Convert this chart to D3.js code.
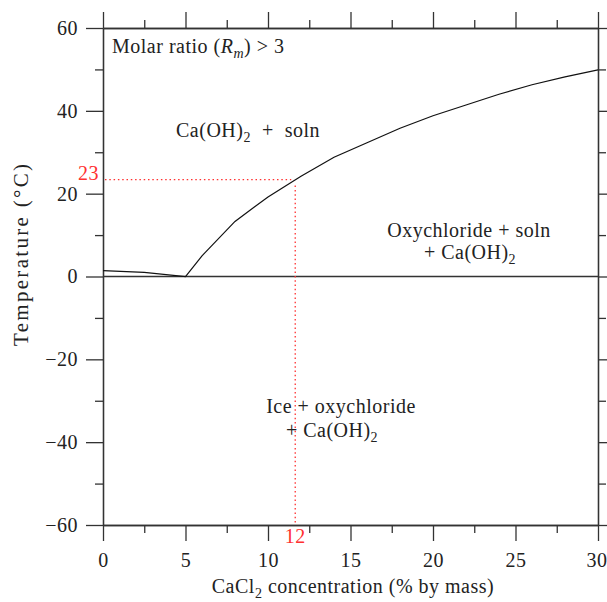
<!DOCTYPE html>
<html>
<head>
<meta charset="utf-8">
<script src="https://cdn.jsdelivr.net/npm/d3@7"></script>
<style>
  html, body { margin: 0; padding: 0; background: #fff; }
  svg { display: block; }
  text { font-family: "Liberation Serif", "DejaVu Serif", serif; fill: #222; letter-spacing: 0.5px; }
</style>
</head>
<body>
<svg id="chart" width="607" height="602"></svg>
<script>
// Liquidus curve: CaCl2 concentration (% by mass) vs temperature (°C)
const concentration = [0, 2.5, 5, 6, 8, 10, 12, 14, 16, 18, 20, 22, 24, 26, 28, 30];
const temperature   = [1.4, 1.0, 0, 5.0, 13.3, 19.2, 24.2, 28.8, 32.3, 35.8, 38.8, 41.4, 44.0, 46.3, 48.2, 49.9];

// Reference point
const refConcentration = [11.65];
const refTemperature = [23.4];

// Axis ticks
const xMajorTicks = [0, 5, 10, 15, 20, 25, 30];
const xMinorTicks = [2.5, 7.5, 12.5, 17.5, 22.5, 27.5];
const yMajorTicks = [-60, -40, -20, 0, 20, 40, 60];
const yMinorTicks = [-50, -30, -10, 10, 30, 50];

const svg = d3.select("#chart");
const x = d3.scaleLinear().domain([0, 30]).range([103, 598]);
const y = d3.scaleLinear().domain([-60, 60]).range([525, 28]);

const axisColor = "#333";
const fs = 20;
const subFs = 14;

function styleAxis(g) {
  g.selectAll("path, line").attr("stroke", axisColor).attr("stroke-width", 1.3);
  g.selectAll("text").attr("fill", "#222")
    .style("font-family", '"Liberation Serif", serif').style("font-size", fs + "px");
}

const fmtY = d => d < 0 ? "\u2212" + Math.abs(d) : String(d);

// Left axis (labelled) + minor
svg.append("g").attr("transform", `translate(${x(0)},0)`)
  .call(d3.axisLeft(y).tickValues(yMajorTicks).tickSize(17).tickSizeOuter(0).tickPadding(8).tickFormat(fmtY))
  .call(styleAxis);
svg.append("g").attr("transform", `translate(${x(0)},0)`)
  .call(d3.axisLeft(y).tickValues(yMinorTicks).tickSize(8).tickSizeOuter(0).tickFormat(""))
  .call(styleAxis);

// Right axis (ticks only)
svg.append("g").attr("transform", `translate(${x(30)},0)`)
  .call(d3.axisRight(y).tickValues(yMajorTicks).tickSize(17).tickSizeOuter(0).tickFormat(""))
  .call(styleAxis);
svg.append("g").attr("transform", `translate(${x(30)},0)`)
  .call(d3.axisRight(y).tickValues(yMinorTicks).tickSize(8).tickSizeOuter(0).tickFormat(""))
  .call(styleAxis);

// Bottom axis (labelled) + minor
const bottom = svg.append("g").attr("transform", `translate(0,${y(-60)})`)
  .call(d3.axisBottom(x).tickValues(xMajorTicks).tickSize(16).tickSizeOuter(0).tickPadding(12).tickFormat(d3.format("d")))
  .call(styleAxis);
// keep the last label inside the page edge
bottom.selectAll(".tick text").filter(d => d === 30).attr("text-anchor", "end").attr("dx", 9);
svg.append("g").attr("transform", `translate(0,${y(-60)})`)
  .call(d3.axisBottom(x).tickValues(xMinorTicks).tickSize(8).tickSizeOuter(0).tickFormat(""))
  .call(styleAxis);

// Top axis (ticks only)
svg.append("g").attr("transform", `translate(0,${y(60)})`)
  .call(d3.axisTop(x).tickValues(xMajorTicks).tickSize(16).tickSizeOuter(0).tickFormat(""))
  .call(styleAxis);
svg.append("g").attr("transform", `translate(0,${y(60)})`)
  .call(d3.axisTop(x).tickValues(xMinorTicks).tickSize(8).tickSizeOuter(0).tickFormat(""))
  .call(styleAxis);

// Zero-degree line
svg.append("line")
  .attr("x1", x(0)).attr("x2", x(30)).attr("y1", y(0)).attr("y2", y(0))
  .attr("stroke", axisColor).attr("stroke-width", 1.3);

// Red dotted guides at the reference point
const refColor = "#ff3030";
svg.append("line")
  .attr("x1", x(0) + 2).attr("x2", x(refConcentration[0]) - 4)
  .attr("y1", y(refTemperature[0])).attr("y2", y(refTemperature[0]))
  .attr("stroke", refColor).attr("stroke-width", 1.3).attr("stroke-dasharray", "1.5,2.8");
svg.append("line")
  .attr("x1", x(refConcentration[0])).attr("x2", x(refConcentration[0]))
  .attr("y1", y(refTemperature[0]) + 6).attr("y2", y(-60))
  .attr("stroke", refColor).attr("stroke-width", 1.3).attr("stroke-dasharray", "1.5,2.8");

svg.append("text")
  .attr("x", x(0) - 4).attr("y", y(refTemperature[0]))
  .attr("text-anchor", "end").style("font-size", fs + "px").style("fill", refColor)
  .text(d3.format(".0f")(refTemperature[0]));
svg.append("text")
  .attr("x", x(refConcentration[0])).attr("y", y(-60) + 18)
  .attr("text-anchor", "middle").style("font-size", fs + "px").style("fill", refColor)
  .text(d3.format(".0f")(refConcentration[0]));

// Curve
const pts = concentration.map((c, i) => [c, temperature[i]]);
svg.append("path")
  .datum(pts)
  .attr("fill", "none").attr("stroke", "#111").attr("stroke-width", 1.2)
  .attr("d", d3.line().x(d => x(d[0])).y(d => y(d[1])));

// Axis titles
svg.append("g").attr("transform", "translate(28,255) rotate(-90)")
  .append("text")
  .attr("x", -91).attr("y", 0)
  .attr("textLength", 182).attr("lengthAdjust", "spacing")
  .style("font-size", "21px").style("letter-spacing", "0px").style("fill", "#222")
  .text("Temperature (\u00B0C)");

const xt = svg.append("text")
  .attr("x", 353).attr("y", 593)
  .attr("text-anchor", "middle").style("font-size", fs + "px");
xt.append("tspan").text("CaCl");
xt.append("tspan").attr("dy", 5).style("font-size", subFs + "px").text("2");
xt.append("tspan").attr("dy", -5).text(" concentration (% by mass)");

// In-plot annotations
const m = svg.append("text").attr("x", 112).attr("y", 53).style("font-size", fs + "px");
m.append("tspan").text("Molar ratio (");
m.append("tspan").style("font-style", "italic").text("R");
m.append("tspan").attr("dy", 5).style("font-style", "italic").style("font-size", subFs + "px").text("m");
m.append("tspan").attr("dy", -5).text(") > 3");

function ca(textSel, before, after) {
  textSel.append("tspan").text(before + "Ca(OH)");
  textSel.append("tspan").attr("dy", 5).style("font-size", subFs + "px").text("2");
  if (after) textSel.append("tspan").attr("dy", -5).text(after);
}

ca(svg.append("text").attr("x", 176).attr("y", 137).style("font-size", fs + "px").attr("xml:space", "preserve"),
   "", "  +  soln");

svg.append("text").attr("x", 469).attr("y", 237).attr("text-anchor", "middle")
  .style("font-size", fs + "px").text("Oxychloride + soln");
ca(svg.append("text").attr("x", 470).attr("y", 259).attr("text-anchor", "middle").style("font-size", fs + "px"),
   "+ ", "");

svg.append("text").attr("x", 341).attr("y", 413).attr("text-anchor", "middle")
  .style("font-size", fs + "px").text("Ice + oxychloride");
ca(svg.append("text").attr("x", 332).attr("y", 437).attr("text-anchor", "middle").style("font-size", fs + "px"),
   "+ ", "");
</script>
</body>
</html>
